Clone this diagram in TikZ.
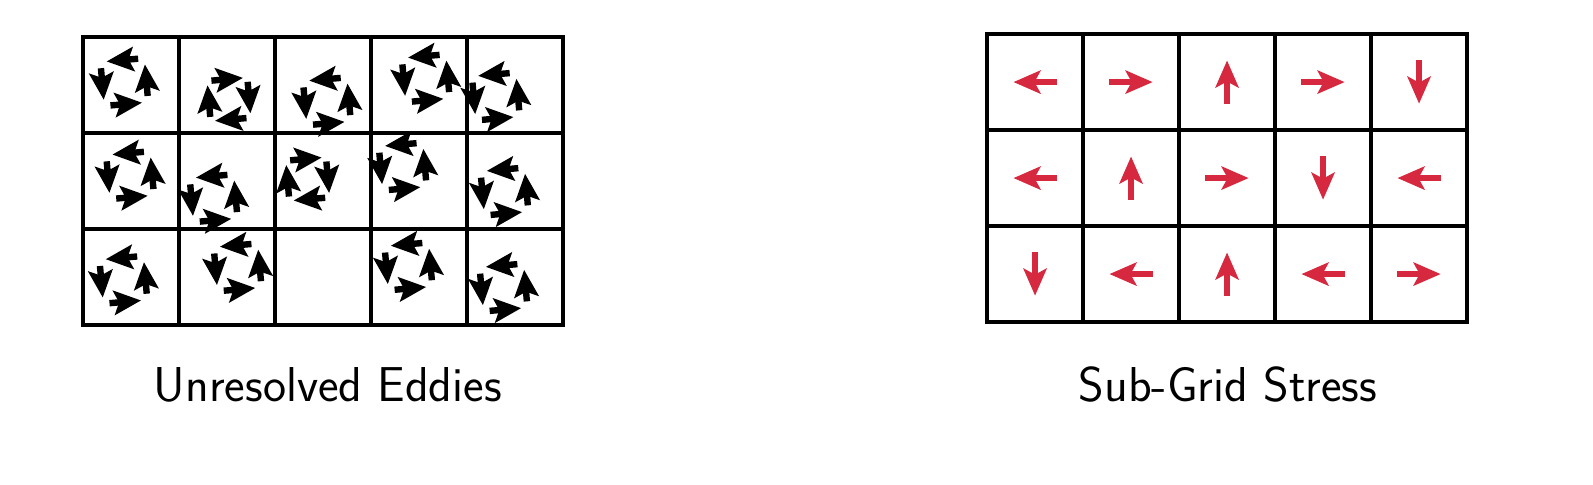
\documentclass[tikz,border=0pt]{standalone}
\usepackage{fontspec}
\usepackage{tikz}
\usetikzlibrary{arrows.meta,positioning,calc}
\definecolor{stressred}{RGB}{214,40,62}
\tikzset{
  cell/.style={draw=black, line width=2.3pt},
  swirl/.style={-{Stealth[length=13.5pt, width=12pt, inset=2.5pt]}, line width=3.2pt, black},
  stress/.style={-{Stealth[length=13.5pt, width=11.5pt, inset=3pt]}, line width=3.4pt, stressred},
  caption/.style={anchor=base, font=\sffamily\fontsize{24.5}{28}\selectfont},
}
% one eddy: centre x, centre y, radius, sense (1 = anticlockwise, -1 = clockwise)
\newcommand{\eddy}[4]{%
  \foreach \k in {0,...,3}{
    \pgfmathsetmacro{\eang}{90*\k+5}
    \pgfmathsetmacro{\edir}{\eang+#4*90}
    \draw[swirl] ($(#1,#2)+(\eang:#3)+(\edir+180:0.165)$) -- ++(\edir:0.33);
  }%
}

\begin{document}
\begin{tikzpicture}[x=48pt,y=48pt]
  \useasboundingbox (-0.865,-1.667) rectangle (15.729,3.385);

  % unresolved eddies
  \foreach \i in {0,...,4}{
    \foreach \j in {0,...,2}{
      \draw[cell] (\i,\j) rectangle ++(1,1);
    }
  }
  \foreach \col/\row/\dx/\dy/\s/\rad in {
      0/0/-0.07/-0.03/1/0.23, 1/0/0.02/0.15/-1/0.21, 2/0/0.04/0.17/1/0.23,
      3/0/0.07/-0.07/1/0.23, 4/0/-0.20/0.12/1/0.23,
      0/1/-0.01/-0.06/1/0.23, 1/1/-0.14/0.18/1/0.23, 2/1/-0.16/-0.02/-1/0.21,
      3/1/-0.17/-0.15/1/0.23, 4/1/-0.11/0.11/1/0.23,
      0/2/-0.08/0.03/1/0.23, 1/2/0.11/-0.10/1/0.23,
      3/2/-0.11/-0.11/1/0.23, 4/2/-0.12/0.11/1/0.23}{
    \pgfmathsetmacro{\ex}{\col+0.5+\dx}
    \pgfmathsetmacro{\ey}{2.5-\row-\dy}
    \eddy{\ex}{\ey}{\rad}{\s}
  }
  \node[caption] (eddiescap) at (2.55,-0.80) {Unresolved Eddies};

  % sub-grid stress
  \begin{scope}[shift={(9.417,0.03)}]
    \foreach \i in {0,...,4}{
      \foreach \j in {0,...,2}{
        \draw[cell] (\i,\j) rectangle ++(1,1);
      }
    }
    \foreach \col/\row/\a in {
        0/0/180, 1/0/0, 2/0/90, 3/0/0, 4/0/270,
        0/1/180, 1/1/90, 2/1/0, 3/1/270, 4/1/180,
        0/2/270, 1/2/180, 2/2/90, 3/2/180, 4/2/0}{
      \draw[stress] ($(\col+0.5,2.5-\row)+(\a+180:0.225)$) -- ++(\a:0.45);
    }
  \end{scope}
  \node[caption] (stresscap) at (11.927,-0.80) {Sub-Grid Stress};
\end{tikzpicture}
\end{document}
